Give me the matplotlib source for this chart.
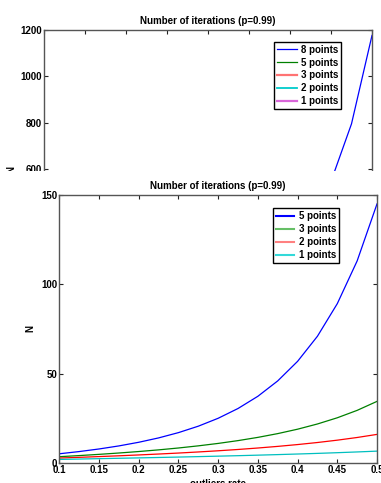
import numpy as np
import matplotlib
matplotlib.use('Agg')
import matplotlib.pyplot as plt
from matplotlib.patches import Rectangle

plt.rcParams['font.family'] = ['Liberation Sans', 'DejaVu Sans']
plt.rcParams['font.weight'] = 'bold'
plt.rcParams['mathtext.fontset'] = 'stix'

# outlier rate (x axis)
rate = [0.1, 0.125, 0.15, 0.175, 0.2, 0.225, 0.25, 0.275, 0.3,
        0.325, 0.35, 0.375, 0.4, 0.425, 0.45, 0.475, 0.5]

# number of iterations for each sample size
n8 = [8.18, 10.94, 14.48, 19.07, 25.08, 33.03, 43.66, 58.0, 77.56,
      104.5, 142.2, 195.5, 271.9, 383.1, 547.7, 795.6, 1176.6]
n5 = [5.16, 6.40, 7.85, 9.56, 11.60, 14.04, 17.0, 20.6, 25.03,
      30.5, 37.34, 45.95, 56.89, 70.94, 89.18, 113.1, 145.0]
n3 = [3.53, 4.15, 4.84, 5.59, 6.42, 7.35, 8.40, 9.60, 10.96,
      12.53, 14.34, 16.45, 18.92, 21.84, 25.31, 29.46, 34.49]
n2 = [2.77, 3.17, 3.59, 4.03, 4.51, 5.02, 5.57, 6.18, 6.84,
      7.57, 8.39, 9.30, 10.32, 11.47, 12.78, 14.28, 16.01]
n1 = [2.0, 2.21, 2.43, 2.64, 2.86, 3.09, 3.32, 3.57, 3.83,
      4.10, 4.39, 4.70, 5.03, 5.38, 5.77, 6.19, 6.64]

xticks = [0.1, 0.15, 0.2, 0.25, 0.3, 0.35, 0.4, 0.45, 0.5]
xticklabels = ['0.1', '0.15', '0.2', '0.25', '0.3', '0.35', '0.4', '0.45', '0.5']

W, H = 381, 483
fig = plt.figure(figsize=(W / 100, H / 100), dpi=100)


def px(l, t, r, b):
    return [l / W, 1 - b / H, (r - l) / W, (b - t) / H]


def style(ax):
    for s in ax.spines.values():
        s.set_color('#555555')
        s.set_linewidth(1.0)
    ax.tick_params(direction='in', top=True, right=True, length=3,
                   width=0.8, color='#222222', labelsize=7, pad=1.5)
    for lab in ax.get_xticklabels() + ax.get_yticklabels():
        lab.set_fontweight('bold')


# clipped formula from the page above
fig.text(93 / W, 1 + 5 / H, r'$\log\,(1-(1-\epsilon)^s)$', fontsize=15,
         va='baseline', ha='left', color='#444444')

# top chart (partly hidden)
ax1 = fig.add_axes(px(44, 30, 372, 308.5))
ax1.plot(rate, n8, color=(0, 0, 1), lw=0.9, label='8 points')
ax1.plot(rate, n5, color=(0, 0.5, 0), lw=0.9, label='5 points')
ax1.plot(rate, n3, color=(1, 0.45, 0.45), lw=1.6, label='3 points')
ax1.plot(rate, n2, color=(0, 0.8, 0.8), lw=1.3, label='2 points')
ax1.plot(rate, n1, color=(0.85, 0.4, 0.85), lw=1.6, label='1 points')
ax1.set_xlim(0.1, 0.5)
ax1.set_ylim(0, 1200)
ax1.set_yticks([0, 200, 400, 600, 800, 1000, 1200])
ax1.set_xticks(xticks)
ax1.set_xticklabels(xticklabels)
ax1.set_title('Number of iterations (p=0.99)', fontsize=7, fontweight='bold', pad=4)
ax1.set_ylabel('N', fontsize=7, fontweight='bold', labelpad=3)
style(ax1)
leg1 = ax1.legend(loc='upper right', bbox_to_anchor=(0.905, 0.958),
                  borderaxespad=0, fontsize=7, fancybox=False,
                  edgecolor='black', framealpha=1, handlelength=2.0,
                  handletextpad=0.4, labelspacing=0.3, borderpad=0.3)
leg1.get_frame().set_linewidth(1.0)
for t in leg1.get_texts():
    t.set_fontweight('bold')

# white cover where the page cuts the top chart
fig.patches.append(Rectangle((0, 0), 1, (H - 170.5) / H, transform=fig.transFigure,
                             facecolor='white', edgecolor='none', zorder=1))

# bottom chart
ax2 = fig.add_axes(px(59.3, 195, 377, 463))
ax2.set_zorder(2)
ax2.plot(rate, n5, color=(0, 0, 1), lw=0.9, label='5 points')
ax2.plot(rate, n3, color=(0, 0.5, 0), lw=0.9, label='3 points')
ax2.plot(rate, n2, color=(1, 0, 0), lw=0.9, label='2 points')
ax2.plot(rate, n1, color=(0, 0.75, 0.75), lw=0.9, label='1 points')
ax2.set_xlim(0.1, 0.5)
ax2.set_ylim(0, 150)
ax2.set_yticks([0, 50, 100, 150])
ax2.set_xticks(xticks)
ax2.set_xticklabels(xticklabels)
ax2.set_title('Number of iterations (p=0.99)', fontsize=7, fontweight='bold', pad=4)
ax2.set_ylabel('N', fontsize=7, fontweight='bold', labelpad=4)
ax2.set_xlabel('outliers rate', fontsize=7, fontweight='bold', labelpad=3)
style(ax2)
leg2 = ax2.legend(loc='upper right', bbox_to_anchor=(0.880, 0.950),
                  borderaxespad=0, fontsize=7, fancybox=False,
                  edgecolor='black', framealpha=1, handlelength=1.9,
                  handletextpad=0.45, labelspacing=0.3, borderpad=0.3)
leg2.get_frame().set_linewidth(1.0)
for t in leg2.get_texts():
    t.set_fontweight('bold')
for h, c in zip(leg2.get_lines(), [(0, 0, 1), (0.4, 0.75, 0.4), (1, 0.5, 0.5), (0.2, 0.85, 0.85)]):
    h.set_color(c)
    h.set_linewidth(1.5)

fig.savefig('out.png', dpi=100)
